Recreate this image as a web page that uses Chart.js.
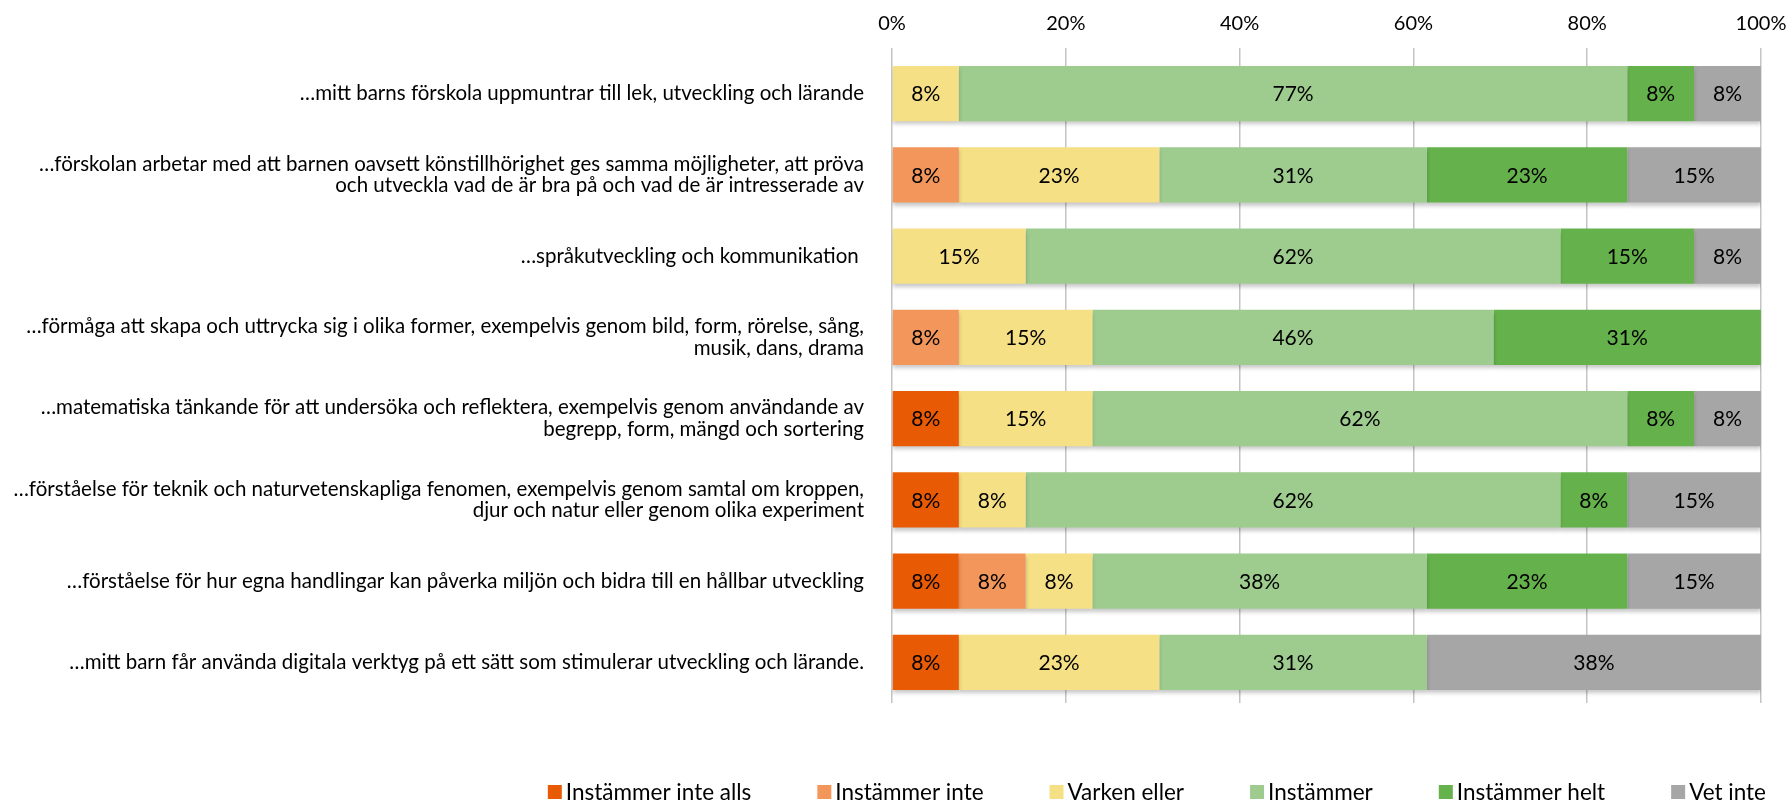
<!DOCTYPE html>
<html>
<head>
<meta charset="utf-8">
<script src="https://cdn.jsdelivr.net/npm/chart.js@4/dist/chart.umd.min.js"></script>
<style>
  html, body { margin: 0; padding: 0; background: #fff; }
  #wrap { width: 1792px; height: 804px; }
</style>
</head>
<body>
<div id="wrap"><canvas id="chart"></canvas></div>
<script>
const categories = [
    "…mitt barns förskola uppmuntrar till lek, utveckling och lärande",
    ["…förskolan arbetar med att barnen oavsett könstillhörighet ges samma möjligheter, att pröva", "och utveckla vad de är bra på och vad de är intresserade av"],
    "…språkutveckling och kommunikation ",
    ["…förmåga att skapa och uttrycka sig i olika former, exempelvis genom bild, form, rörelse, sång,", "musik, dans, drama"],
    ["…matematiska tänkande för att undersöka och reflektera, exempelvis genom användande av", "begrepp, form, mängd och sortering"],
    ["…förståelse för teknik och naturvetenskapliga fenomen, exempelvis genom samtal om kroppen,", "djur och natur eller genom olika experiment"],
    "…förståelse för hur egna handlingar kan påverka miljön och bidra till en hållbar utveckling",
    "…mitt barn får använda digitala verktyg på ett sätt som stimulerar utveckling och lärande."
];

const seriesNames = ["Instämmer inte alls", "Instämmer inte", "Varken eller", "Instämmer", "Instämmer helt", "Vet inte"];

// percent per category
const instammerInteAlls = [0, 0, 0, 0, 7.69, 7.69, 7.69, 7.69];
const instammerInte     = [0, 7.69, 0, 7.69, 0, 0, 7.69, 0];
const varkenEller       = [7.69, 23.08, 15.38, 15.38, 15.38, 7.69, 7.69, 23.08];
const instammer         = [76.92, 30.77, 61.54, 46.15, 61.54, 61.54, 38.46, 30.77];
const instammerHelt     = [7.69, 23.08, 15.38, 30.77, 7.69, 7.69, 23.08, 0];
const vetInte           = [7.69, 15.38, 7.69, 0, 7.69, 15.38, 15.38, 38.46];

const xTicks = [0, 20, 40, 60, 80, 100];

const colors = ["#E95A05", "#F2965B", "#F6E086", "#9ECC8F", "#65B24C", "#A6A6A6"];

const FONT = "Lato";

function init() {
    createChart();
}

// soft shadow under the bars
const barShadow = {
    id: 'barShadow',
    beforeDatasetsDraw(chart) {
        const ctx = chart.ctx;
        ctx.save();
        ctx.shadowColor = 'rgba(0,0,0,0.22)';
        ctx.shadowBlur = 4;
        ctx.shadowOffsetY = 3;
    },
    afterDatasetsDraw(chart) {
        chart.ctx.restore();
    }
};

// percentage text in the middle of each segment
const barLabels = {
    id: 'barLabels',
    afterDatasetsDraw(chart) {
        const ctx = chart.ctx;
        ctx.save();
        ctx.font = "21px " + FONT;
        ctx.fillStyle = "#000";
        ctx.textAlign = "center";
        ctx.textBaseline = "middle";
        chart.data.datasets.forEach((ds, i) => {
            const meta = chart.getDatasetMeta(i);
            meta.data.forEach((bar, j) => {
                const v = ds.data[j];
                if (!v) return;
                const x = (bar.base + bar.x) / 2;
                ctx.fillText(Math.round(v) + "%", x, bar.y + 1);
            });
        });
        ctx.restore();
    }
};

// legend drawn by hand so spacing follows the original
const bottomLegend = {
    id: 'bottomLegend',
    afterDraw(chart) {
        const ctx = chart.ctx;
        ctx.save();
        ctx.font = "22.5px " + FONT;
        ctx.textBaseline = "middle";
        const box = 14, gapText = 4, gapItem = 66, y = 792, right = 1766;
        const widths = chart.data.datasets.map(ds => ctx.measureText(ds.label).width);
        let total = 0;
        widths.forEach((w, i) => { total += box + gapText + w + (i > 0 ? gapItem : 0); });
        let x = right - total;
        chart.data.datasets.forEach((ds, i) => {
            ctx.fillStyle = ds.backgroundColor;
            ctx.fillRect(x, y - box / 2, box, box);
            ctx.fillStyle = "#000";
            ctx.fillText(ds.label, x + box + gapText, y + 1);
            x += box + gapText + widths[i] + gapItem;
        });
        ctx.restore();
    }
};

function createChart() {
    const el = document.getElementById("chart");
    const lists = [instammerInteAlls, instammerInte, varkenEller, instammer, instammerHelt, vetInte];
    const chart_data = {
        labels: categories,
        datasets: lists.map((vals, i) => ({
            label: seriesNames[i],
            data: vals,
            backgroundColor: colors[i],
            borderWidth: 0,
            barPercentage: 0.68,
            categoryPercentage: 1
        }))
    };

    const chart_config = {
        type: 'bar',
        data: chart_data,
        options: {
            indexAxis: 'y',
            responsive: true,
            maintainAspectRatio: false,
            animation: false,
            layout: {
                padding: { left: 0, right: 31, top: 0, bottom: 101 }
            },
            scales: {
                x: {
                    position: 'top',
                    stacked: true,
                    min: 0,
                    max: 100,
                    afterBuildTicks: (scale) => { scale.ticks = xTicks.map(v => ({ value: v })); },
                    afterFit: (scale) => { scale.paddingRight = 0; scale.paddingLeft = 0; },
                    ticks: {
                        callback: (v) => v + "%",
                        color: "#000",
                        padding: 12,
                        font: { family: FONT, size: 20 }
                    },
                    grid: { color: "#C4C4C4", tickLength: 5, lineWidth: 1.5 },
                    border: { display: false }
                },
                y: {
                    stacked: true,
                    afterFit: (scale) => { scale.width = 892; },
                    ticks: {
                        color: "#000",
                        padding: 20,
                        font: { family: FONT, size: 20.5, lineHeight: 1.05 }
                    },
                    grid: { display: false },
                    border: { display: false }
                }
            },
            plugins: {
                legend: { display: false },
                tooltip: { enabled: false }
            }
        },
        plugins: [barShadow, barLabels, bottomLegend]
    };

    return new Chart(el, chart_config);
}

init();
</script>
</body>
</html>
